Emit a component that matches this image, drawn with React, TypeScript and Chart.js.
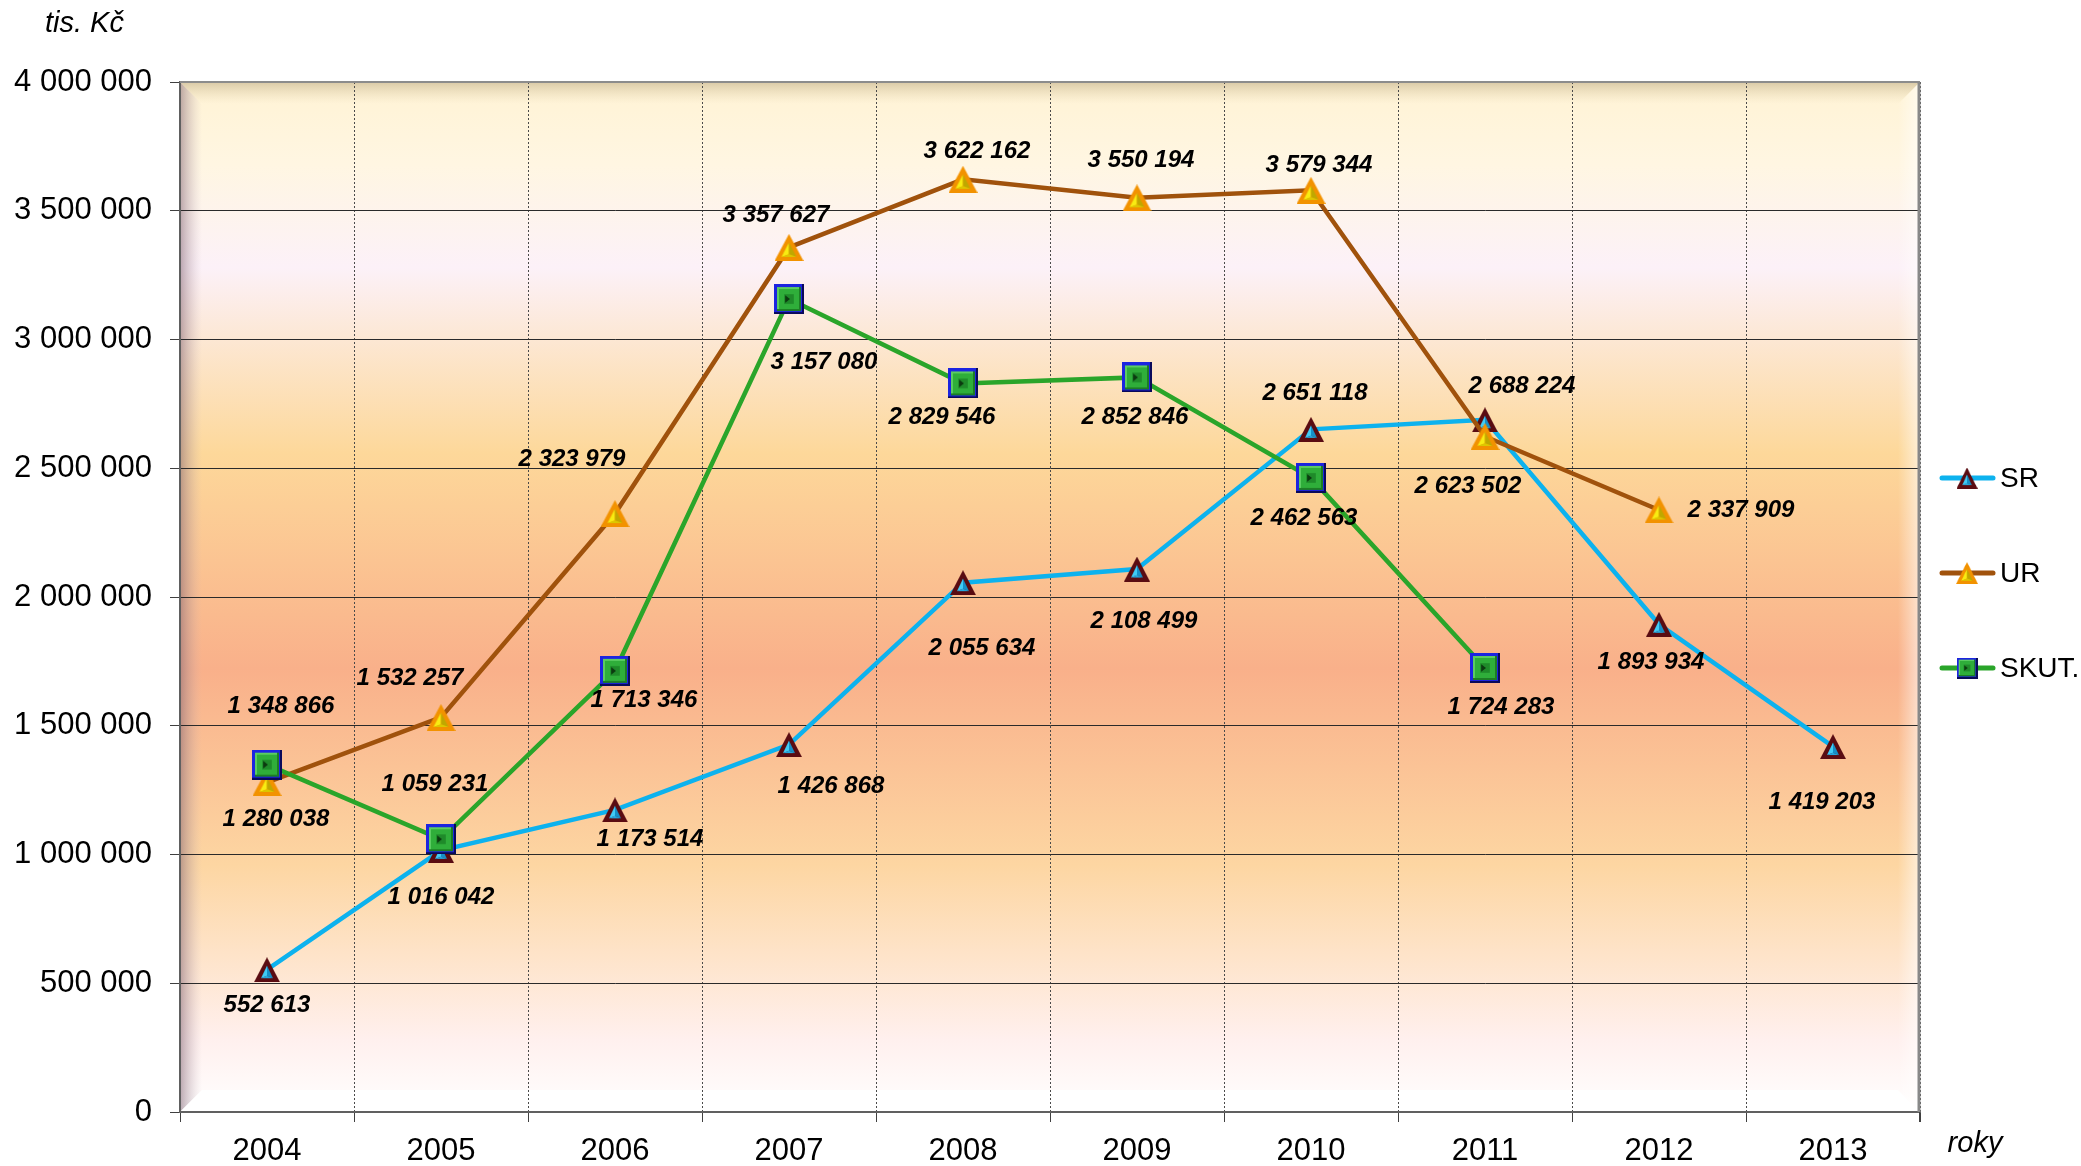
import React, { useEffect, useRef } from 'react';
import { Chart, registerables } from 'chart.js';

Chart.register(...registerables);

// ---------- data ----------
const CATEGORIES = ['2004', '2005', '2006', '2007', '2008', '2009', '2010', '2011', '2012', '2013'];
const SR_VALUES = [552613, 1016042, 1173514, 1426868, 2055634, 2108499, 2651118, 2688224, 1893934, 1419203];
const UR_VALUES = [1280038, 1532257, 2323979, 3357627, 3622162, 3550194, 3579344, 2623502, 2337909, null];
const SKUT_VALUES = [1348866, 1059231, 1713346, 3157080, 2829546, 2852846, 2462563, 1724283, null, null];
const SERIES_NAMES = ['SR', 'UR', 'SKUT.'];
const Y_MIN = 0;
const Y_MAX = 4000000;
const Y_STEP = 500000;
const Y_AXIS_TITLE = 'tis. Kč';
const X_AXIS_TITLE = 'roky';

// ---------- label placement (pixel offsets from each point) ----------
const SR_LABEL_OFFSETS = [[0, 36], [0, 47], [35, 30], [42, 42], [19, 66], [7, 52], [4, -36], [37, -33], [-8, 38], [-11, 56]];
const UR_LABEL_OFFSETS = [[9, 37], [-31, -39], [-43, -54], [-13, -32], [14, -28], [4, -37], [8, -25], [-17, 50], [82, 0]];
const SKUT_LABEL_OFFSETS = [[14, -58], [-6, -55], [29, 30], [35, 63], [-21, 34], [-2, 40], [-7, 40], [16, 39]];

const FONT = "'Liberation Sans', Arial, sans-serif";
const COLORS = { sr: '#0db2ee', ur: '#a0520c', skut: '#2aa52a' };

const fmt = (v: number) => Math.round(v).toString().replace(/\B(?=(\d{3})+(?!\d))/g, ' ');

function fillTri(g: CanvasRenderingContext2D, pts: number[], color: string) {
  g.beginPath();
  g.moveTo(pts[0], pts[1]);
  g.lineTo(pts[2], pts[3]);
  g.lineTo(pts[4], pts[5]);
  g.closePath();
  g.fillStyle = color;
  g.fill();
}

function triMarker(w: number, h: number, outer: string, light: string, dark: string, bottom: string, inset: number) {
  const c = document.createElement('canvas');
  c.width = w;
  c.height = h;
  const g = c.getContext('2d') as CanvasRenderingContext2D;
  fillTri(g, [w / 2, 0, w, h, 0, h], outer);
  const ax = w / 2, ay = inset * 2.1;
  const blx = inset * 1.75, bly = h - inset;
  const brx = w - inset * 1.75, bry = h - inset;
  const cx = w / 2, cy = (ay + bly + bry) / 3 + 2;
  fillTri(g, [ax, ay, blx, bly, cx, cy], light);
  fillTri(g, [ax, ay, brx, bry, cx, cy], dark);
  fillTri(g, [blx, bly, brx, bry, cx, cy], bottom);
  return c;
}

function squareMarker(s: number) {
  const c = document.createElement('canvas');
  c.width = s;
  c.height = s;
  const g = c.getContext('2d') as CanvasRenderingContext2D;
  g.fillStyle = '#1c24e0';
  g.fillRect(0, 0, s, s);
  g.fillStyle = '#0a0a5a';
  g.fillRect(0, s - 2, s, 2);
  g.fillRect(s - 2, 0, 2, s);
  const b = Math.round(s * 0.11);
  g.fillStyle = '#2fae3a';
  g.fillRect(b, b, s - 2 * b, s - 2 * b);
  g.fillStyle = '#5ccc62';
  g.fillRect(b, b, s - 2 * b, 2);
  g.fillRect(b, b, 2, s - 2 * b);
  g.fillStyle = '#1d7d25';
  g.fillRect(b, s - b - 2, s - 2 * b, 2);
  g.fillRect(s - b - 2, b, 2, s - 2 * b);
  const m = s * 0.34;
  g.fillStyle = '#1f8a2a';
  g.fillRect(m, m, s - 2 * m, s - 2 * m);
  fillTri(g, [m + 1, m + 1, s / 2 + 1, s / 2, m + 1, s - m - 1], '#0c3a10');
  return c;
}

export default function App() {
  const ref = useRef<HTMLCanvasElement | null>(null);

  useEffect(() => {
    document.body.style.margin = '0';
    const canvas = ref.current;
    if (!canvas) return;

    const srMarker = triMarker(26, 25, '#5a0c12', '#40ccf6', '#1590c8', '#22aae2', 4);
    const urMarker = triMarker(29, 27, '#f29200', '#f8ec12', '#bfa800', '#dcc800', 4);
    const skutMarker = squareMarker(30);
    const markers = [srMarker, urMarker, skutMarker];
    const lineColors = [COLORS.sr, COLORS.ur, COLORS.skut];
    const offsets = [SR_LABEL_OFFSETS, UR_LABEL_OFFSETS, SKUT_LABEL_OFFSETS];

    const backgroundPlugin = {
      id: 'bgBevel',
      beforeDraw(chart: any) {
        const { ctx } = chart;
        const { left: L, top: T, right: R, bottom: B } = chart.chartArea;
        ctx.save();
        ctx.fillStyle = '#ffffff';
        ctx.fillRect(0, 0, chart.width, chart.height);
        const h = B - T;
        const grad = ctx.createLinearGradient(0, T, 0, B);
        grad.addColorStop(0, '#fff3d4');
        grad.addColorStop(0.08, '#fff6e2');
        grad.addColorStop(0.18, '#fcf1f8');
        grad.addColorStop(0.36, '#fdd89a');
        grad.addColorStop(0.57, '#f9b08a');
        grad.addColorStop(0.76, '#fdd6a2');
        grad.addColorStop(0.93, '#fff0ee');
        grad.addColorStop(1, '#ffffff');
        ctx.fillStyle = grad;
        ctx.fillRect(L, T, R - L, h);

        const b = 22;
        let g2 = ctx.createLinearGradient(L, 0, L + b, 0);
        g2.addColorStop(0, 'rgba(130,100,115,0.55)');
        g2.addColorStop(1, 'rgba(200,180,190,0)');
        ctx.beginPath();
        ctx.moveTo(L, T); ctx.lineTo(L + b, T + b); ctx.lineTo(L + b, B - b); ctx.lineTo(L, B); ctx.closePath();
        ctx.fillStyle = g2; ctx.fill();
        g2 = ctx.createLinearGradient(0, T, 0, T + b);
        g2.addColorStop(0, 'rgba(170,150,110,0.45)');
        g2.addColorStop(1, 'rgba(220,200,160,0)');
        ctx.beginPath();
        ctx.moveTo(L, T); ctx.lineTo(R, T); ctx.lineTo(R - b, T + b); ctx.lineTo(L + b, T + b); ctx.closePath();
        ctx.fillStyle = g2; ctx.fill();
        g2 = ctx.createLinearGradient(R - b, 0, R, 0);
        g2.addColorStop(0, 'rgba(255,255,255,0)');
        g2.addColorStop(1, 'rgba(255,255,255,0.6)');
        ctx.beginPath();
        ctx.moveTo(R, T); ctx.lineTo(R, B); ctx.lineTo(R - b, B - b); ctx.lineTo(R - b, T + b); ctx.closePath();
        ctx.fillStyle = g2; ctx.fill();
        ctx.beginPath();
        ctx.moveTo(L, B); ctx.lineTo(L + b, B - b); ctx.lineTo(R - b, B - b); ctx.lineTo(R, B); ctx.closePath();
        ctx.fillStyle = 'rgba(255,255,255,0.95)'; ctx.fill();
        ctx.restore();
      },
      afterDraw(chart: any) {
        const { ctx } = chart;
        const { left: L, top: T, right: R, bottom: B } = chart.chartArea;
        ctx.save();
        ctx.strokeStyle = '#8c8c8c';
        ctx.lineWidth = 2;
        ctx.beginPath(); ctx.moveTo(L, T); ctx.lineTo(R, T); ctx.stroke();
        ctx.lineWidth = 3;
        ctx.strokeStyle = '#888888';
        ctx.beginPath(); ctx.moveTo(R - 1, T); ctx.lineTo(R - 1, B); ctx.stroke();
        ctx.strokeStyle = '#404040';
        ctx.lineWidth = 1;
        ctx.beginPath(); ctx.moveTo(R - 0.5, B); ctx.lineTo(R - 0.5, B + 10); ctx.stroke();

        ctx.fillStyle = '#000';
        ctx.font = `italic 29px ${FONT}`;
        ctx.textAlign = 'left';
        ctx.textBaseline = 'middle';
        ctx.fillText(Y_AXIS_TITLE, 45, 24);
        ctx.textAlign = 'center';
        ctx.fillText(X_AXIS_TITLE, 1975, 1144);

        const legendY = [478, 573, 668];
        const legendSize = [[21, 21], [22, 22], [21, 21]];
        for (let i = 0; i < 3; i++) {
          const y = legendY[i];
          ctx.strokeStyle = lineColors[i];
          ctx.lineWidth = 5;
          ctx.lineCap = 'round';
          ctx.beginPath(); ctx.moveTo(1942, y); ctx.lineTo(1993, y); ctx.stroke();
          const [w, hh] = legendSize[i];
          ctx.drawImage(markers[i], 1967 - w / 2, y - hh / 2, w, hh);
          ctx.fillStyle = '#000';
          ctx.font = `28px ${FONT}`;
          ctx.textAlign = 'left';
          ctx.textBaseline = 'middle';
          ctx.fillText(SERIES_NAMES[i], 2000, y + 1);
        }
        ctx.restore();
      },
      afterDatasetsDraw(chart: any) {
        const { ctx } = chart;
        ctx.save();
        ctx.fillStyle = '#000';
        ctx.font = `italic bold 24px ${FONT}`;
        ctx.textAlign = 'center';
        ctx.textBaseline = 'middle';
        chart.data.datasets.forEach((ds: any, di: number) => {
          const meta = chart.getDatasetMeta(di);
          ds.data.forEach((v: number | null, i: number) => {
            if (v === null || v === undefined) return;
            const p = meta.data[i];
            const off = offsets[di][i] || [0, -30];
            ctx.fillText(fmt(v), p.x + off[0], p.y + off[1]);
          });
        });
        ctx.restore();
      },
    };

    const chart = new Chart(canvas, {
      type: 'line',
      data: {
        labels: CATEGORIES,
        datasets: [
          {
            label: SERIES_NAMES[0], data: SR_VALUES, borderColor: COLORS.sr, borderWidth: 4.5,
            pointStyle: srMarker as any, pointRadius: 13, order: 3, spanGaps: false,
          },
          {
            label: SERIES_NAMES[1], data: UR_VALUES, borderColor: COLORS.ur, borderWidth: 4.5,
            pointStyle: urMarker as any, pointRadius: 14, order: 2, spanGaps: false,
          },
          {
            label: SERIES_NAMES[2], data: SKUT_VALUES, borderColor: COLORS.skut, borderWidth: 4.5,
            pointStyle: skutMarker as any, pointRadius: 15, order: 1, spanGaps: false,
          },
        ],
      },
      options: {
        animation: false,
        responsive: false,
        maintainAspectRatio: false,
        events: [],
        layout: { padding: { top: 82, right: 161, bottom: 0, left: 0 } },
        plugins: { legend: { display: false }, tooltip: { enabled: false }, title: { display: false } },
        elements: { line: { tension: 0 } },
        scales: {
          x: {
            type: 'category',
            offset: true,
            grid: { offset: true, color: '#4a4a4a', lineWidth: 1, tickLength: 10, tickColor: '#404040', tickWidth: 1, tickBorderDash: [] },
            border: { display: true, color: '#606060', width: 2, dash: [2, 2] },
            ticks: { color: '#000', font: { family: FONT, size: 31 }, padding: 11, maxRotation: 0, autoSkip: false },
            afterFit: (s: any) => { s.height = 54; },
          },
          y: {
            min: Y_MIN,
            max: Y_MAX,
            ticks: { stepSize: Y_STEP, color: '#000', font: { family: FONT, size: 31 }, padding: 18, callback: (v: any) => fmt(Number(v)) },
            grid: { color: '#2a2a2a', lineWidth: 1, tickLength: 10, tickColor: '#404040' },
            border: { display: true, color: '#606060', width: 2 },
            afterFit: (s: any) => { s.width = 180; },
          },
        },
      } as any,
      plugins: [backgroundPlugin],
    });

    return () => chart.destroy();
  }, []);

  return (
    <div style={{ width: 2081, height: 1166 }}>
      <canvas ref={ref} width={2081} height={1166} style={{ display: 'block', width: 2081, height: 1166 }} />
    </div>
  );
}
